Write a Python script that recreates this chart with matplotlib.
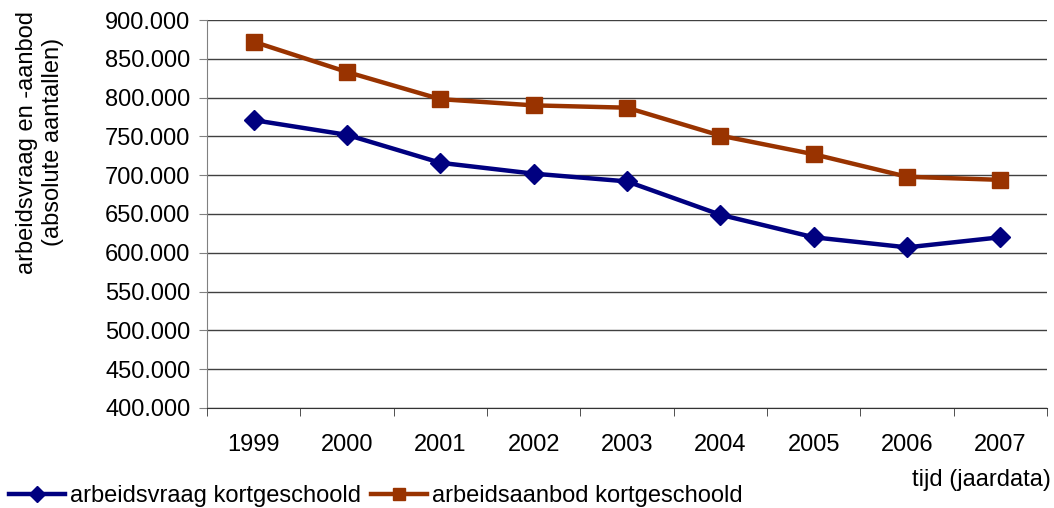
import matplotlib.pyplot as plt
from matplotlib.ticker import FuncFormatter

plt.rcParams['font.family'] = ['Liberation Sans', 'DejaVu Sans']

# === Data ===
years = ['1999', '2000', '2001', '2002', '2003', '2004', '2005', '2006', '2007']
vraag = [771000, 752000, 716000, 702000, 692000, 649000, 620000, 607000, 620000]
aanbod = [872000, 833000, 798000, 790000, 787000, 751000, 727000, 698000, 694000]

FS = 17

# === Figure ===
fig = plt.figure(figsize=(10.54, 5.08), dpi=100)
ax = fig.add_axes([0.1964, 0.1969, 0.7970, 0.7637])

x = range(len(years))
ax.plot(x, vraag, color='#000080', lw=3.2, marker='D', ms=10,
        label='arbeidsvraag kortgeschoold', zorder=3)
ax.plot(x, aanbod, color='#993300', lw=3.2, marker='s', ms=11,
        label='arbeidsaanbod kortgeschoold', zorder=3)

ax.set_xlim(-0.5, len(years) - 0.5)
ax.set_ylim(400000, 900000)
ax.set_yticks(range(400000, 900001, 50000))
ax.yaxis.set_major_formatter(FuncFormatter(lambda v, p: f"{int(v):,}".replace(',', '.')))
ax.set_xticks(x)
ax.set_xticklabels(years)
ax.set_xticks([i - 0.5 for i in range(len(years) + 1)], minor=True)
ax.tick_params(axis='x', which='major', length=0, pad=19, labelsize=FS)
ax.tick_params(axis='x', which='minor', length=6, color='#333333')
ax.tick_params(axis='y', length=6, labelsize=FS, color='#808080', pad=6)

ax.grid(axis='y', color='#404040', lw=1)
ax.set_axisbelow(True)
for s in ['top', 'right']:
    ax.spines[s].set_visible(False)
ax.spines['left'].set_color('#808080')
ax.spines['bottom'].set_color('#333333')

fig.text(0.038, 0.72, 'arbeidsvraag en -aanbod\n(absolute aantallen)', rotation=90,
         ha='center', va='center', fontsize=FS, linespacing=1.2)
fig.text(0.997, 0.056, 'tijd (jaardata)', ha='right', va='center', fontsize=FS)

ax.legend(loc='center left', bbox_to_anchor=(-0.236, -0.228), ncol=2, frameon=False,
          fontsize=FS, handlelength=2.4, handletextpad=0.2, columnspacing=0.4,
          borderaxespad=0, markerscale=0.85, borderpad=0)

plt.savefig('out.png', dpi=100)
